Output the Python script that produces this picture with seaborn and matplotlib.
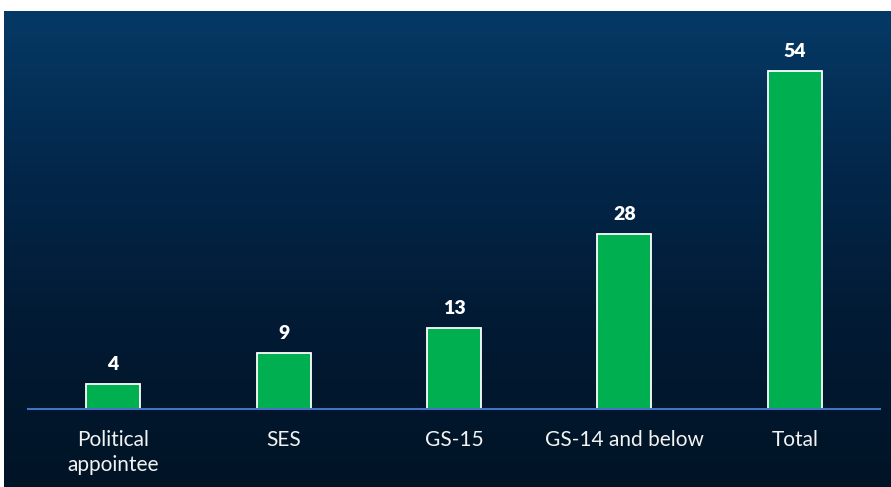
import numpy as np
import pandas as pd
import matplotlib
matplotlib.use("Agg")
import matplotlib.pyplot as plt
from matplotlib.colors import LinearSegmentedColormap
import seaborn as sns

# chart data
categories = ["Political\nappointee", "SES", "GS-15", "GS-14 and below", "Total"]
counts = [4, 9, 13, 28, 54]

df = pd.DataFrame({"category": categories, "count": counts})

sns.set_theme(style="white")
plt.rcParams["font.family"] = ["Lato", "DejaVu Sans"]

W, H = 891, 487
fig = plt.figure(figsize=(W / 100, H / 100), dpi=100, facecolor="white")

# dark blue gradient panel behind the chart
bg = fig.add_axes([4 / W, 0, 887 / W, 476 / H])
cmap = LinearSegmentedColormap.from_list("panel", ["#053a66", "#03274a", "#021a33", "#011426"])
grad = np.linspace(0, 1, 256).reshape(-1, 1)
bg.imshow(grad, aspect="auto", cmap=cmap, extent=[0, 1, 0, 1], origin="upper")
bg.set_axis_off()

ax = fig.add_axes([28 / W, (H - 409) / H, 852 / W, 375.6 / H])
ax.set_facecolor("none")
sns.barplot(data=df, x="category", y="count", color="#00b050", saturation=1,
            width=0.317, edgecolor="white", linewidth=1.3, ax=ax)

ax.set_xlim(-0.5, 4.5)
ax.set_ylim(0, 60)
for s in ["top", "right", "left"]:
    ax.spines[s].set_visible(False)
ax.spines["bottom"].set_color("#4472c4")
ax.spines["bottom"].set_linewidth(1.5)
ax.set_yticks([])
ax.set_xlabel("")
ax.set_ylabel("")
ax.tick_params(axis="x", length=0, pad=15, labelsize=15, labelcolor="#f2f2f2")
for lbl in ax.get_xticklabels():
    lbl.set_linespacing(1.3)

for i, v in enumerate(counts):
    ax.annotate(str(v), (i, v), xytext=(0, 8), textcoords="offset points",
                ha="center", va="bottom", color="white", fontsize=14, fontweight="heavy")

fig.savefig("out.png", dpi=100, facecolor="white")
